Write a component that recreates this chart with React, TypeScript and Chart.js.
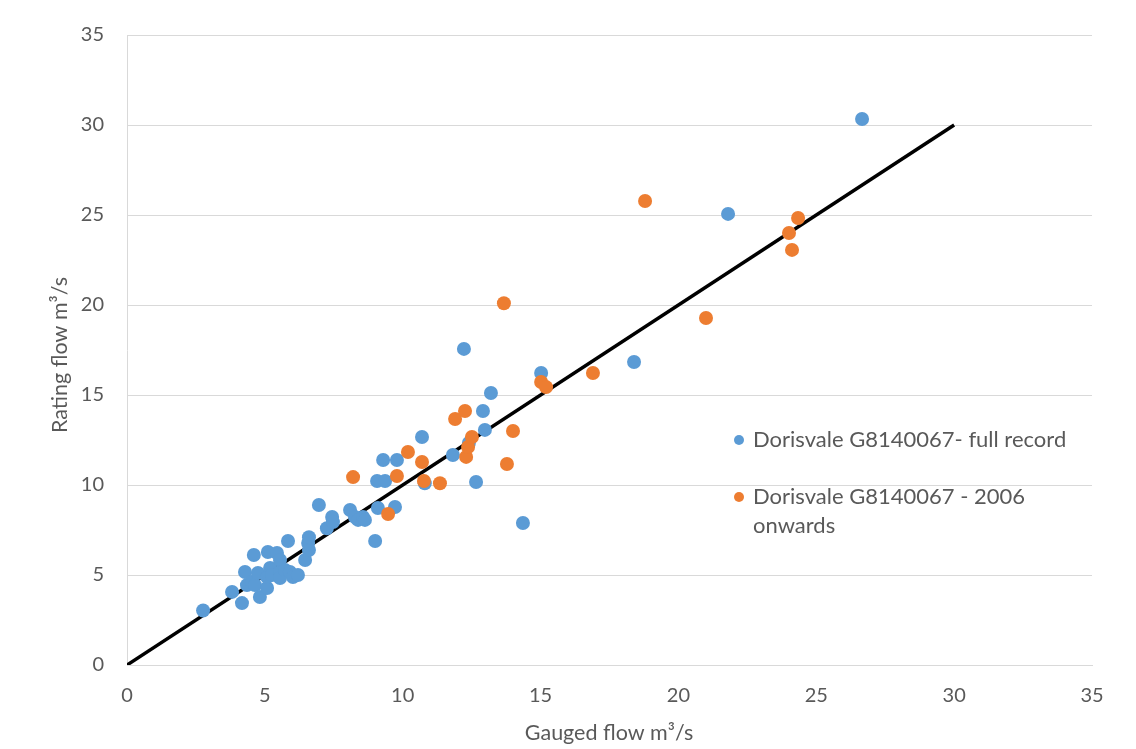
import React, { useEffect, useRef } from "react";
import { Chart, registerables } from "chart.js";

Chart.register(...registerables);

const fullRecordX = [2.76, 3.81, 4.17, 4.28, 4.35, 4.53, 4.64, 4.6, 4.75, 4.82, 5.08, 5.08, 5.11, 5.19, 5.26, 5.44, 5.55, 5.55, 5.55, 5.73, 5.84, 5.91, 6.02, 6.2, 6.46, 6.6, 6.57, 6.6, 6.96, 7.25, 7.44, 7.47, 8.09, 8.27, 8.38, 8.56, 8.63, 9.0, 9.1, 9.72, 9.07, 9.36, 9.29, 9.79, 10.7, 10.8, 11.82, 12.22, 12.4, 12.66, 12.91, 12.98, 13.2, 14.36, 15.02, 18.39, 21.8, 26.66];
const fullRecordY = [3.03, 4.06, 3.44, 5.17, 4.44, 4.61, 4.44, 6.11, 5.11, 3.78, 4.28, 4.89, 6.28, 5.39, 5.0, 6.22, 5.83, 5.17, 4.83, 5.28, 6.89, 5.17, 4.89, 5.0, 5.83, 6.39, 6.78, 7.1, 8.89, 7.6, 8.22, 7.94, 8.61, 8.22, 8.06, 8.22, 8.06, 6.89, 8.72, 8.78, 10.22, 10.22, 11.39, 11.39, 12.67, 10.1, 11.67, 17.56, 12.33, 10.17, 14.11, 13.06, 15.11, 7.89, 16.22, 16.83, 25.06, 30.33];

const recentX = [8.2, 9.47, 9.79, 10.19, 10.7, 10.77, 11.35, 11.9, 12.26, 12.3, 12.37, 12.51, 13.67, 13.78, 14.0, 15.02, 15.2, 16.9, 18.79, 21.0, 24.01, 24.12, 24.34];
const recentY = [10.44, 8.39, 10.5, 11.83, 11.28, 10.22, 10.1, 13.67, 14.11, 11.56, 12.11, 12.67, 20.1, 11.17, 13.0, 15.72, 15.44, 16.22, 25.78, 19.28, 24.0, 23.06, 24.83];

const lineX = [0, 30];
const lineY = [0, 30];

const axisTicks = [0, 5, 10, 15, 20, 25, 30, 35];
const xTitle = "Gauged flow m³/s";
const yTitle = "Rating flow m³/s";
const legendLabels = ["Dorisvale G8140067- full record", "Dorisvale G8140067 - 2006", "onwards"];

const BLUE = "#5B9BD5";
const ORANGE = "#ED7D31";
const TEXT = "#595959";
const FONT = "Lato";

const toPts = (xs: number[], ys: number[]) => xs.map((x, i) => ({ x, y: ys[i] }));

const overlayPlugin = {
  id: "overlayText",
  afterDraw(chart: any) {
    const ctx = chart.ctx;
    const area = chart.chartArea;
    ctx.save();
    ctx.fillStyle = TEXT;
    ctx.font = `21.5px ${FONT}`;
    ctx.textBaseline = "middle";
    // x title
    ctx.textAlign = "center";
    ctx.fillText(xTitle, 609, 733);
    // y title
    ctx.save();
    ctx.translate(60, 355);
    ctx.rotate(-Math.PI / 2);
    ctx.fillText(yTitle, 0, 0);
    ctx.restore();
    // legend
    ctx.font = `22px ${FONT}`;
    ctx.textAlign = "left";
    const mx = 739;
    const tx = 753;
    const rows = [440, 497, 526];
    ctx.fillStyle = BLUE;
    ctx.beginPath();
    ctx.arc(mx, rows[0], 5, 0, Math.PI * 2);
    ctx.fill();
    ctx.fillStyle = ORANGE;
    ctx.beginPath();
    ctx.arc(mx, rows[1], 5, 0, Math.PI * 2);
    ctx.fill();
    ctx.fillStyle = TEXT;
    ctx.fillText(legendLabels[0], tx, rows[0]);
    ctx.fillText(legendLabels[1], tx, rows[1]);
    ctx.fillText(legendLabels[2], tx, rows[2]);
    ctx.restore();
  },
};

export default function App() {
  const ref = useRef<HTMLCanvasElement | null>(null);
  useEffect(() => {
    document.body.style.margin = "0";
    const canvas = ref.current;
    if (!canvas) return;
    const chart = new Chart(canvas, {
      type: "scatter",
      data: {
        datasets: [
          {
            label: legendLabels[1],
            data: toPts(recentX, recentY),
            backgroundColor: ORANGE,
            borderWidth: 0,
            pointRadius: 7,
            order: 1,
          },
          {
            label: legendLabels[0],
            data: toPts(fullRecordX, fullRecordY),
            backgroundColor: BLUE,
            borderWidth: 0,
            pointRadius: 7,
            order: 2,
          },
          {
            type: "line",
            label: "1:1",
            data: toPts(lineX, lineY),
            borderColor: "#000000",
            borderWidth: 3.5,
            pointRadius: 0,
            showLine: true,
            fill: false,
            order: 3,
          } as any,
        ],
      },
      options: {
        responsive: false,
        animation: false,
        devicePixelRatio: 1,
        layout: { padding: { top: 35, right: 44, left: 0, bottom: 0 } },
        plugins: { legend: { display: false }, tooltip: { enabled: false } },
        scales: {
          x: {
            type: "linear",
            min: 0,
            max: 35,
            afterBuildTicks: (s: any) => {
              s.ticks = axisTicks.map((v) => ({ value: v }));
            },
            afterFit: (s: any) => {
              s.height = 84;
            },
            ticks: {
              color: TEXT,
              font: { family: FONT, size: 20 },
              padding: 19,
            },
            grid: { display: false, drawTicks: false },
            border: { display: true, color: "#d9d9d9", width: 1 },
          },
          y: {
            type: "linear",
            min: 0,
            max: 35,
            afterBuildTicks: (s: any) => {
              s.ticks = axisTicks.map((v) => ({ value: v }));
            },
            afterFit: (s: any) => {
              s.width = 127;
            },
            ticks: {
              color: TEXT,
              font: { family: FONT, size: 20 },
              padding: 23,
            },
            grid: { display: true, color: "#d9d9d9", lineWidth: 1, drawTicks: false },
            border: { display: true, color: "#d9d9d9", width: 1 },
          },
        },
      },
      plugins: [overlayPlugin],
    } as any);
    return () => chart.destroy();
  }, []);
  return (
    <div style={{ width: 1136, height: 749 }}>
      <canvas ref={ref} width={1136} height={749} style={{ display: "block" }} />
    </div>
  );
}
